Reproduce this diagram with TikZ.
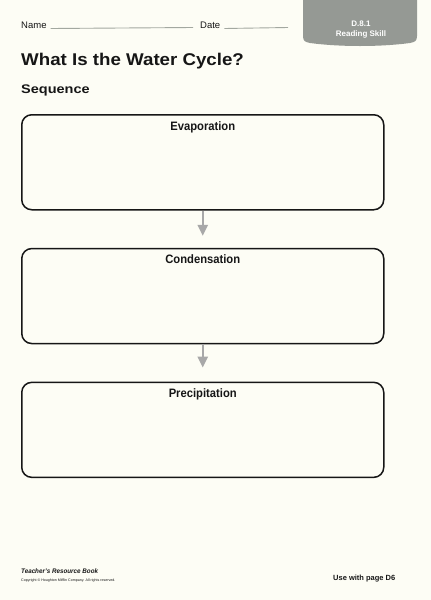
\documentclass[tikz,border=0pt]{standalone}
\usepackage{fontspec}
\setmainfont{Liberation Sans}
\usepackage{xcolor}
\usetikzlibrary{arrows.meta,positioning}
\definecolor{paper}{HTML}{FDFDF5}
\definecolor{ink}{HTML}{161616}
\definecolor{tabgray}{HTML}{959994}
\definecolor{rulegray}{HTML}{A3A8A0}
\definecolor{arrowgray}{HTML}{A8A8A8}
\tikzset{
  every node/.style={text=ink,inner sep=0pt},
  formtext/.style={font=\fontsize{9.5}{11}\selectfont},
  ruleline/.style={draw=rulegray,line width=0.9pt},
  tabtext/.style={font=\fontsize{8}{9.5}\selectfont\bfseries,text=white,align=center},
  titletext/.style={font=\fontsize{17}{19}\selectfont\bfseries,xscale=1.1,anchor=base west},
  subtext/.style={font=\fontsize{12.5}{15}\selectfont\bfseries,xscale=1.16,anchor=base west},
  stepbox/.style={draw=ink,line width=1.5pt,rounded corners=10pt,fill=paper,minimum width=362pt,minimum height=95pt},
  steplabel/.style={font=\fontsize{12.2}{14}\selectfont\bfseries,xscale=0.92},
  flowarr/.style={-{Triangle[width=10pt,length=11pt]},line width=2.4pt,draw=arrowgray},
  foottext/.style={anchor=base west}
}

\begin{document}
\begin{tikzpicture}[x=1pt,y=-1pt]
  \fill[paper] (0,0) rectangle (431,600);
  \useasboundingbox (0,0) rectangle (431,600);

  % header
  \node[formtext,anchor=base west] (namelbl) at (21,28) {Name};
  \coordinate (nameend) at (193,27.5);
  \draw[ruleline] ([xshift=4pt,yshift=-0.5pt]namelbl.base east) -- (nameend);
  \node[formtext,anchor=base west] (datelbl) at (200,28) {Date};
  \coordinate (dateend) at (288,27.5);
  \draw[ruleline] ([xshift=4pt,yshift=-0.5pt]datelbl.base east) -- (dateend);

  \fill[tabgray] (303,0) -- (303,36) .. controls (303,41) and (305,42) .. (310,43)
    .. controls (340,47) and (380,47) .. (410,43)
    .. controls (415,42) and (417,41) .. (417,36) -- (417,0) -- cycle;
  \node[tabtext] (tab) at (361,29.5) {D.8.1\\Reading Skill};

  \node[titletext] (title) at (21,65) {What Is the Water Cycle?};
  \node[subtext] (seq) at (21,93.5) {Sequence};

  % sequence boxes
  \node[stepbox,anchor=north west] (evap) at (21,114) {};
  \node[stepbox,below=37.3pt of evap] (cond) {};
  \node[stepbox,below=37.3pt of cond] (prec) {};
  \node[steplabel,below=7pt of evap.north] (evaplbl) {Evaporation};
  \node[steplabel,below=7pt of cond.north] (condlbl) {Condensation};
  \node[steplabel,below=7pt of prec.north] (preclbl) {Precipitation};

  \draw[flowarr,shorten >=12pt] (evap.south) -- (cond.north);
  \draw[flowarr,shorten >=14pt] (cond.south) -- (prec.north);

  % footer
  \node[foottext,font=\fontsize{6.6}{8}\selectfont\bfseries\itshape,xscale=0.95] (book) at (21,573) {Teacher's Resource Book};
  \node[foottext,font=\fontsize{3.6}{4.5}\selectfont] (copy) at (21,581) {Copyright \textcopyright\ Houghton Mifflin Company. All rights reserved.};
  \node[foottext,font=\fontsize{7.5}{9}\selectfont\bfseries] (usewith) at (333,580) {Use with page D6};
\end{tikzpicture}
\end{document}
